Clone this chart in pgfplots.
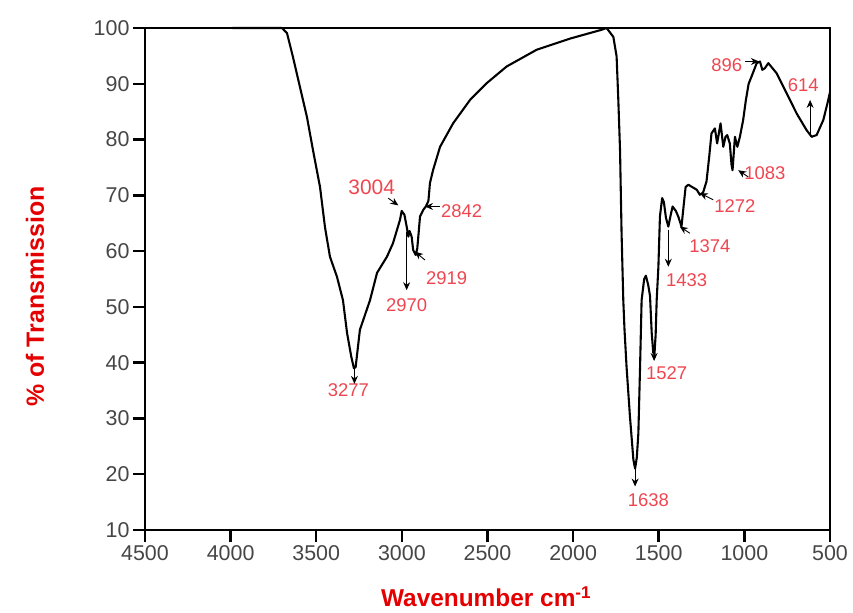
\documentclass[border=0pt]{standalone}
\usepackage{pgfplots}
\pgfplotsset{compat=1.18}
\usepackage{fontspec}
\setmainfont{Liberation Sans}
\usetikzlibrary{arrows.meta}
\definecolor{annot}{RGB}{238,70,80}
\definecolor{labred}{RGB}{228,0,0}
\definecolor{tickgray}{RGB}{70,70,70}
\begin{document}
\begin{tikzpicture}
\begin{axis}[
  scale only axis,
  width=685bp, height=502bp,
  x dir=reverse,
  xmin=500, xmax=4500, ymin=10, ymax=100,
  xtick={500,1000,...,4500}, ytick={10,20,...,100},
  xtick pos=bottom, ytick pos=left,
  tick align=outside,
  major tick length=12bp,
  tick style={line width=2.5pt, black},
  axis line style={line width=2.5pt},
  minor tick num=0,
  /pgf/number format/assume math mode=true,
  /pgf/number format/1000 sep={},
  tick label style={font=\fontsize{21.5}{21.5}\selectfont, text=tickgray},
  xlabel={\textbf{Wavenumber cm\textsuperscript{-1}}},
  ylabel={\textbf{\% of Transmission}},
  xlabel style={font=\fontsize{24.5}{24.5}\selectfont, text=labred, at={(axis description cs:0.498,-0.133)}, anchor=center},
  ylabel style={font=\fontsize{25}{25}\selectfont, text=labred, at={(axis description cs:-0.1606,0.465)}, anchor=center, rotate=0},
  clip=false,
]
\addplot[black, line width=2.1pt, line join=round] coordinates {
(3990,100) (3860,100) (3700,100) (3671,99.1) (3636,94.8) (3595,89.4) (3554,84.0)
(3519,78.1) (3478,71.5) (3449,64.3) (3420,59.0) (3379,55.4) (3344,51.2) (3320,45.3)
(3295,41.0) (3280,39.0) (3270,39.2) (3245,45.9) (3186,51.2) (3145,56.1) (3087,59.0)
(3052,61.4) (3011,65.6) (3001,67.2) (2985,66.5) (2972,64.4) (2962,62.6) (2955,63.6)
(2943,62.6) (2934,60.2) (2919,59.3) (2910,60.5) (2904,62.6) (2894,66.2) (2875,67.4)
(2860,68.0) (2845,69.0) (2836,72.2) (2818,74.5) (2777,78.7) (2701,82.9) (2602,87.1)
(2505,90.1) (2388,93.1) (2213,96.1) (2018,98.1) (1843,99.6) (1804,100) (1765,98.4)
(1746,94.9) (1736,87.1) (1726,78.1) (1717,63.2) (1707,51.2) (1700,46) (1688,39.3)
(1668,30.3) (1648,22.6) (1638,21.0) (1628,23.0) (1619,27.3) (1609,39.3) (1600,51.2)
(1585,55.0) (1575,55.6) (1562,54.0) (1551,52.0) (1541,45.3) (1532,41.8) (1525,41.5)
(1518,45.0) (1512,51.2) (1502,57.2) (1493,66.2) (1480,69.5) (1470,68.8) (1458,66)
(1444,64.4) (1430,66.5) (1419,68.0) (1400,67.2) (1386,66.2) (1367,64.4) (1355,68)
(1343,71.5) (1327,71.9) (1300,71.4) (1278,71.0) (1260,70.1) (1241,70.5) (1221,72.5)
(1205,77) (1192,81.1) (1172,82.0) (1159,79.3) (1139,82.9) (1123,78.7) (1110,80.5)
(1100,80.8) (1085,79.3) (1075,75.5) (1069,74.5) (1055,80.5) (1041,78.7) (1026,80.5)
(1007,83.5) (991,87.1) (975,90.0) (958,91.3) (928,93.7) (909,94.0) (895,92.5)
(880,92.8) (860,93.7) (812,91.9) (753,88.3) (695,84.7) (637,81.7) (607,80.5)
(578,80.8) (539,83.5) (510,87.1) (500,88.5)
};
% annotations
\begin{scope}[every node/.style={text=annot, font=\fontsize{18.5}{18.5}\selectfont}]
\node at (axis cs:3313,35.1) {3277};
\node[font=\fontsize{21}{21}\selectfont] at (axis cs:3176,71.5) {3004};
\node at (axis cs:2972,50.3) {2970};
\node at (axis cs:2738,55.1) {2919};
\node at (axis cs:2651,67.1) {2842};
\node at (axis cs:1561,15.4) {1638};
\node at (axis cs:1454,38.1) {1527};
\node at (axis cs:1337,54.8) {1433};
\node at (axis cs:1201,60.8) {1374};
\node at (axis cs:1055,68.0) {1272};
\node at (axis cs:880,73.9) {1083};
\node at (axis cs:1103,93.4) {896};
\node at (axis cs:656,89.8) {614};
\end{scope}
\begin{scope}[black, line width=0.9pt, -{Stealth[length=8pt,width=7pt]}]
\draw (axis cs:3277,39) -- (axis cs:3277,36.2);
\draw (axis cs:3080,69.5) -- (axis cs:3021,68.2);
\draw (axis cs:2972,63.5) -- (axis cs:2972,53);
\draw (axis cs:2865,58.4) -- (axis cs:2923,59.9);
\draw (axis cs:2777,68) -- (axis cs:2865,68);
\draw (axis cs:1638,22) -- (axis cs:1638,17.8);
\draw (axis cs:1527,44) -- (axis cs:1527,40.3);
\draw (axis cs:1444,63.8) -- (axis cs:1444,57.2);
\draw (axis cs:1318,63.2) -- (axis cs:1377,64.4);
\draw (axis cs:1182,69.2) -- (axis cs:1260,70.4);
\draw (axis cs:977,73.3) -- (axis cs:1036,74.5);
\draw (axis cs:996,94) -- (axis cs:915,94);
\draw (axis cs:616,80.5) -- (axis cs:616,87.1);
\end{scope}
\coordinate (bbl) at (rel axis cs:-0.2117,-0.1653);
\coordinate (btr) at (rel axis cs:1.0336,1.0558);
\end{axis}
\path (bbl) rectangle (btr);
\end{tikzpicture}
\end{document}
